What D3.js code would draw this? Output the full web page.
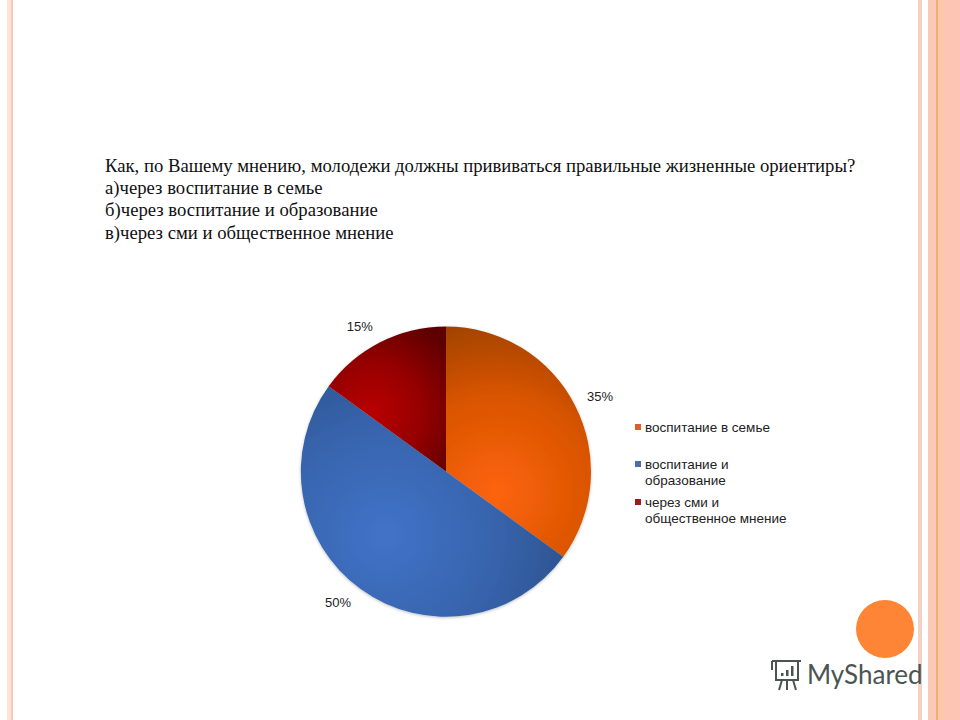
<!DOCTYPE html>
<html>
<head>
<meta charset="utf-8">
<script src="https://cdn.jsdelivr.net/npm/d3@7"></script>
<style>
  html, body { margin: 0; padding: 0; background: #fff; }
  svg { display: block; }
</style>
</head>
<body>
<div id="chart"></div>
<script>
// values
const categories = ['воспитание в семье', 'воспитание и образование', 'через сми и общественное мнение'];
const values = [35, 50, 15];
const legendLines = [['воспитание в семье'], ['воспитание и', 'образование'], ['через сми и', 'общественное мнение']];
const questionLines = [
  'Как, по Вашему мнению, молодежи должны прививаться правильные жизненные ориентиры?',
  'а)через воспитание в семье',
  'б)через воспитание и образование',
  'в)через сми и общественное мнение'
];

const width = 960, height = 720;
const cx = 446, cy = 471.5, radius = 145;

const svg = d3.select('#chart').append('svg')
  .attr('width', width)
  .attr('height', height)
  .attr('viewBox', `0 0 ${width} ${height}`);

const defs = svg.append('defs');

// slide border stripes
const stripes = [
  [7, 4, '#fbe3da'], [11, 2, '#f6c9ba'],
  [918, 4, '#f3d2c4'], [928, 8, '#fbc9b8'], [936, 2, '#f4ab7c'],
  [938, 6, '#fcc8a8'], [944, 16, '#fcc5b4']
];
svg.selectAll('.stripe')
  .data(stripes)
  .enter().append('rect')
  .attr('class', 'stripe')
  .attr('x', d => d[0]).attr('y', 0)
  .attr('width', d => d[1]).attr('height', height)
  .style('fill', d => d[2]);

// question text
svg.append('g').selectAll('text')
  .data(questionLines)
  .enter().append('text')
  .attr('x', 105)
  .attr('y', (d, i) => 171.5 + i * 22.4)
  .style('font-family', '"Liberation Serif", serif')
  .style('font-size', '18.7px')
  .style('fill', '#111')
  .text(d => d);

// slice shading, bright spot moves per slice like the office gradient
const shades = [
  { id: 'shade0', fx: 497, fy: 492, r: 195, stops: ['#fd6408', '#d95405', '#903d03'] },
  { id: 'shade1', fx: 385, fy: 535, r: 230, stops: ['#4073c8', '#3763ab', '#264a80'] },
  { id: 'shade2', fx: 372, fy: 412, r: 100, stops: ['#b80303', '#960202', '#5c0101'] }
];
shades.forEach(s => {
  const g = defs.append('radialGradient')
    .attr('id', s.id)
    .attr('gradientUnits', 'userSpaceOnUse')
    .attr('cx', s.fx).attr('cy', s.fy).attr('r', s.r)
    .attr('gradientTransform', `translate(${-cx},${-cy})`);
  s.stops.forEach((c, i) => g.append('stop').attr('offset', i / 2).attr('stop-color', c));
});

defs.append('filter').attr('id', 'soft')
  .attr('x', '-5%').attr('y', '-5%').attr('width', '110%').attr('height', '110%')
  .append('feDropShadow')
  .attr('dx', 0).attr('dy', 1).attr('stdDeviation', 1.5)
  .attr('flood-color', '#000').attr('flood-opacity', 0.25);

const pie = d3.pie().sort(null)(values);
const arc = d3.arc().innerRadius(0).outerRadius(radius);

const g = svg.append('g')
  .attr('transform', `translate(${cx},${cy})`)
  .attr('filter', 'url(#soft)');

g.selectAll('path')
  .data(pie)
  .enter().append('path')
  .attr('d', arc)
  .style('fill', (d, i) => `url(#shade${i})`);

// percent labels, nudged off the plain centroid like the original
const labelArc = d3.arc().innerRadius(radius + 25).outerRadius(radius + 25);
const labelNudge = [[2.5, 3.5], [-8, -5], [-9, 8]];
svg.append('g').selectAll('text')
  .data(pie)
  .enter().append('text')
  .attr('x', (d, i) => cx + labelArc.centroid(d)[0] + labelNudge[i][0])
  .attr('y', (d, i) => cy + labelArc.centroid(d)[1] + labelNudge[i][1])
  .attr('text-anchor', 'middle')
  .attr('dominant-baseline', 'middle')
  .style('font-family', '"Liberation Sans", sans-serif')
  .style('font-size', '13px')
  .style('fill', '#222')
  .text(d => d.data + '%');

// legend
const legendColors = ['#d9602b', '#4a6ea8', '#9c1c1c'];
const legendY = [427, 464, 502];
const legend = svg.append('g').selectAll('g')
  .data(categories)
  .enter().append('g')
  .attr('transform', (d, i) => `translate(635,${legendY[i]})`);

legend.append('rect')
  .attr('x', 0).attr('y', -3)
  .attr('width', 6).attr('height', 6)
  .style('fill', (d, i) => legendColors[i]);

legend.selectAll('text')
  .data((d, i) => legendLines[i])
  .enter().append('text')
  .attr('x', 10)
  .attr('y', (d, i) => 4.5 + i * 16)
  .style('font-family', '"Liberation Sans", sans-serif')
  .style('font-size', '13.5px')
  .style('fill', '#222')
  .text(d => d);

// decorative circle and watermark
svg.append('circle')
  .attr('cx', 885).attr('cy', 629).attr('r', 29)
  .style('fill', '#fd8535');

const logo = svg.append('g').attr('transform', 'translate(768,658)')
  .style('fill', 'none').style('stroke', '#4a5553').style('stroke-width', 2);
logo.append('path').attr('d', 'M4 3H33M8 3V22H30V3M14 22L11 32M19 22V32M25 22L28 32M4 3V12');
logo.selectAll('rect')
  .data([3, 6, 10])
  .enter().append('rect')
  .attr('x', (d, i) => 13 + i * 5)
  .attr('y', d => 18 - d)
  .attr('width', 2.5)
  .attr('height', d => d)
  .style('fill', '#4a5553')
  .style('stroke', 'none');

svg.append('text')
  .attr('x', 807).attr('y', 684)
  .style('font-family', 'Lato, sans-serif')
  .style('font-size', '26px')
  .style('fill', '#4a5553')
  .text('MyShared');
</script>
</body>
</html>
